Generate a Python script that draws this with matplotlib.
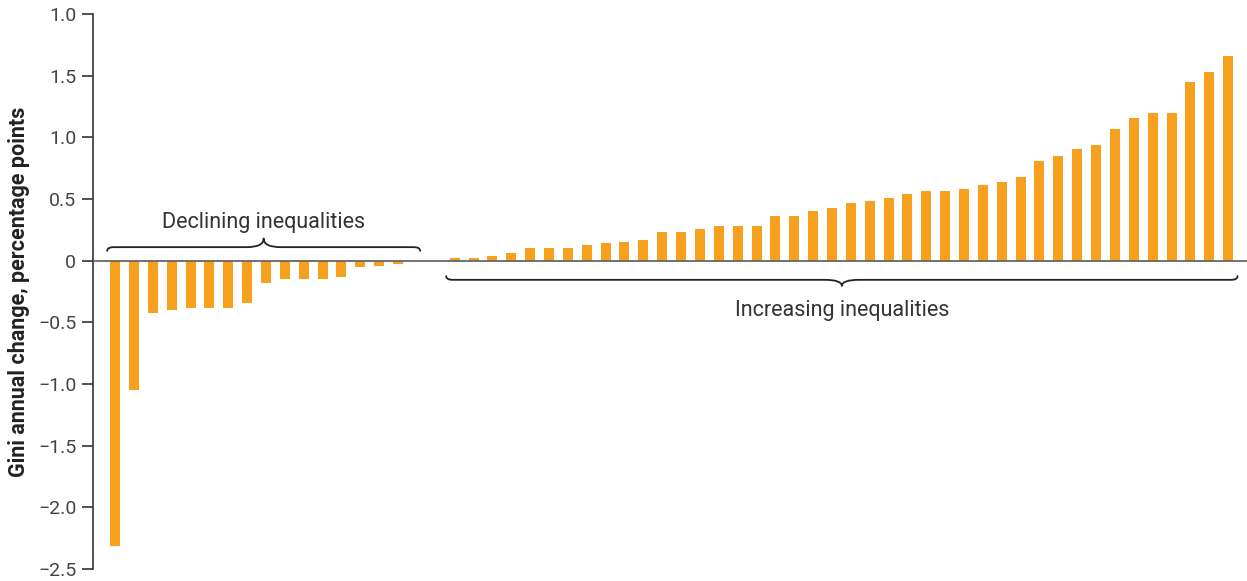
import numpy as np
import matplotlib.pyplot as plt
from matplotlib.path import Path
from matplotlib.patches import PathPatch

# Gini annual change (percentage points), sorted
declining = [-2.31, -1.05, -0.42, -0.40, -0.38, -0.38, -0.38, -0.34,
             -0.18, -0.15, -0.15, -0.15, -0.13, -0.05, -0.04, -0.03]
increasing = [0.02, 0.02, 0.04, 0.06, 0.10, 0.10, 0.10, 0.13, 0.14, 0.155,
              0.17, 0.23, 0.23, 0.26, 0.285, 0.285, 0.285, 0.36, 0.36, 0.40,
              0.43, 0.47, 0.485, 0.51, 0.54, 0.565, 0.565, 0.58, 0.615, 0.64,
              0.68, 0.81, 0.85, 0.91, 0.94, 1.07, 1.16, 1.20, 1.20, 1.45,
              1.53, 1.66]
gap = 2  # empty slots between the two groups

y_ticks = [2.0, 1.5, 1.0, 0.5, 0, -0.5, -1.0, -1.5, -2.0, -2.5]
y_tick_labels = ['1.0', '1.5', '1.0', '0.5', '0', '\u22120.5', '\u22121.0',
                 '\u22121.5', '\u22122.0', '\u22122.5']

orange = '#F7A01E'
grey = '#444444'

plt.rcParams['font.family'] = ['Roboto', 'DejaVu Sans']


def brace(ax, x0, x1, y, tip, end, r_end, r_tip):
    '''draws a curly brace along y, tip is the signed tip offset,
    end is the signed offset of the curled ends'''
    xm = (x0 + x1) / 2
    verts = [(x0, y + end),
             (x0, y), (x0 + r_end, y),
             (xm - r_tip, y),
             (xm, y), (xm, y + tip),
             (xm, y), (xm + r_tip, y),
             (x1 - r_end, y),
             (x1, y), (x1, y + end)]
    codes = [Path.MOVETO,
             Path.CURVE3, Path.CURVE3,
             Path.LINETO,
             Path.CURVE3, Path.CURVE3,
             Path.CURVE3, Path.CURVE3,
             Path.LINETO,
             Path.CURVE3, Path.CURVE3]
    ax.add_patch(PathPatch(Path(verts, codes), fc='none', ec='#222222', lw=1.3,
                           capstyle='round', joinstyle='round'))
    return xm


fig = plt.figure(figsize=(12.47, 5.81), dpi=100)
ax = fig.add_axes([0.0746, 0.0207, 0.9254, 0.955])

x_dec = np.arange(len(declining))
x_inc = np.arange(len(increasing)) + len(declining) + gap
ax.bar(x_dec, declining, width=0.53, color=orange, zorder=2)
ax.bar(x_inc, increasing, width=0.53, color=orange, zorder=2)
ax.axhline(0, color='#666666', lw=1.3, zorder=3)

ax.set_xlim(-1.17, x_inc[-1] + 1.0)
ax.set_ylim(-2.5, 2.0)
ax.set_yticks(y_ticks)
ax.set_yticklabels(y_tick_labels)
ax.set_xticks([])
for s in ['top', 'right', 'bottom']:
    ax.spines[s].set_visible(False)
ax.spines['left'].set_color('#333333')
ax.spines['left'].set_linewidth(1.2)
ax.tick_params(axis='y', direction='out', length=8, width=1.2, color='#333333',
               labelsize=14, labelcolor=grey, pad=4)
ax.set_ylabel('Gini annual change, percentage points', fontsize=15.5,
              fontweight='bold', color='#222222', labelpad=6)

# braces and labels
m1 = brace(ax, x_dec[0] - 0.42, x_dec[-1] + 1.17, 0.11, 0.07, -0.03, 0.35, 0.9)
ax.text(m1, 0.31, 'Declining inequalities', ha='center', va='center',
        fontsize=15.5, color='#333333')
m2 = brace(ax, x_inc[0] - 0.45, x_inc[-1] + 0.5, -0.155, -0.05, 0.03, 0.35, 0.9)
ax.text(m2, -0.40, 'Increasing inequalities', ha='center', va='center',
        fontsize=15.5, color='#333333')

fig.savefig('out.png', dpi=100)
